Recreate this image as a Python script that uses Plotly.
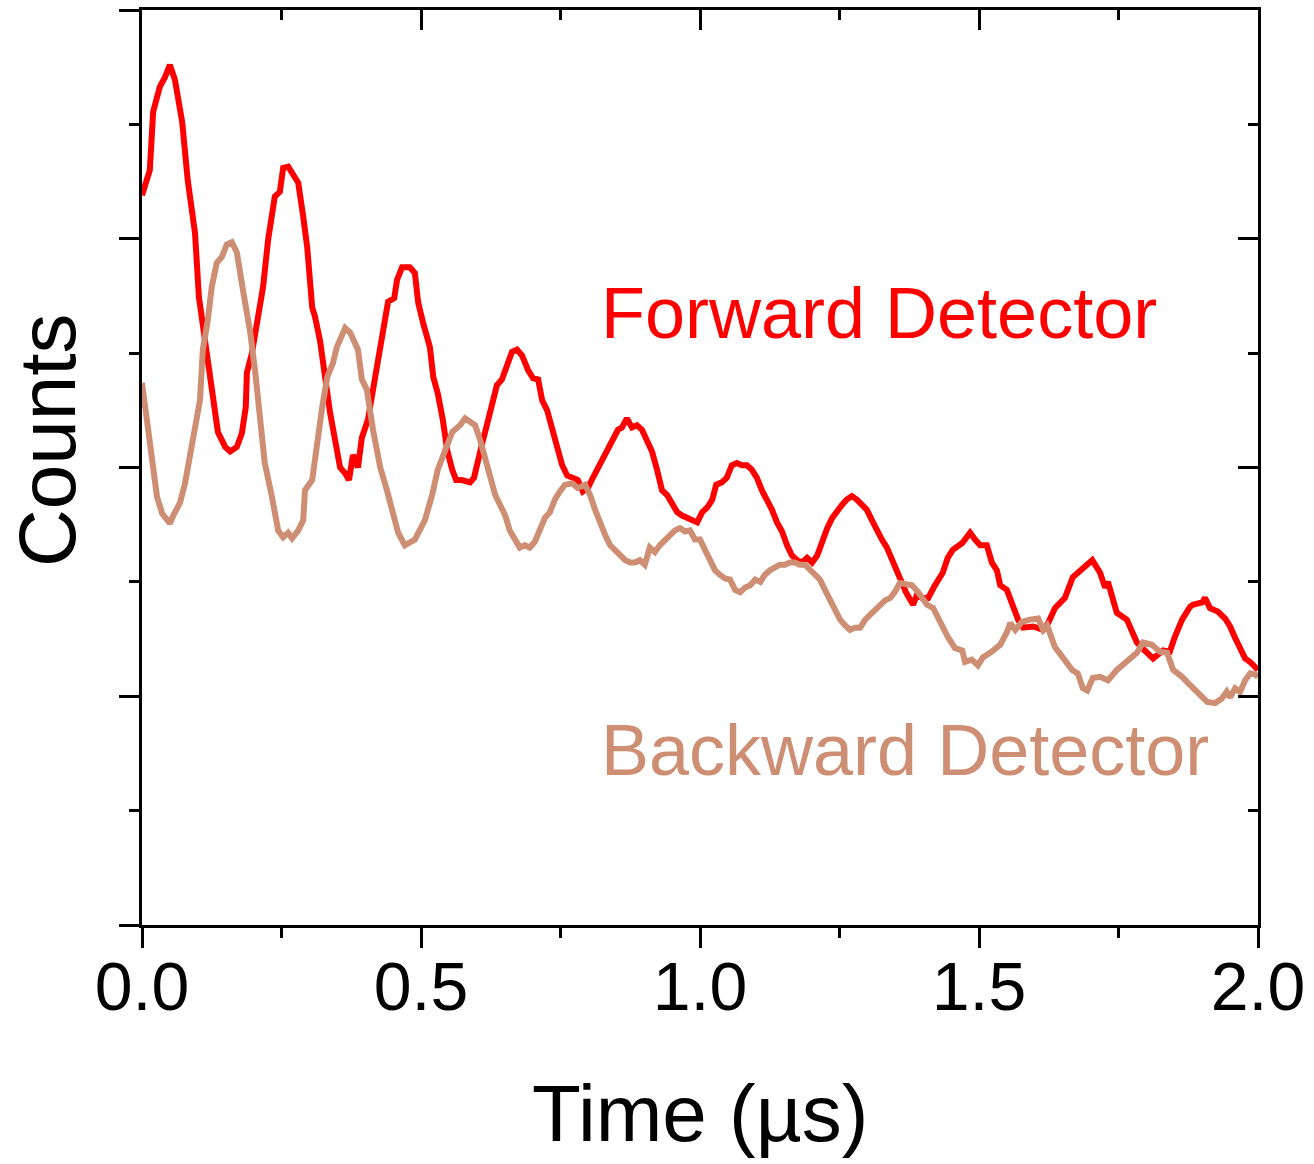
import plotly.graph_objects as go

# Forward detector (red) — time in µs, counts in arbitrary units
fwd_t = [0.000, 0.007, 0.014, 0.020, 0.032, 0.041, 0.050, 0.059, 0.072, 0.082, 0.095, 0.102, 0.113, 0.122,
         0.131, 0.136, 0.149, 0.158, 0.170, 0.179, 0.186, 0.188, 0.197, 0.206, 0.217, 0.226, 0.233, 0.238,
         0.247, 0.253, 0.262, 0.271, 0.280, 0.289, 0.296, 0.305, 0.310, 0.319, 0.328, 0.337, 0.346, 0.355,
         0.364, 0.371, 0.378, 0.387, 0.394, 0.405, 0.414, 0.427, 0.435, 0.441, 0.452, 0.457, 0.466, 0.480,
         0.489, 0.495, 0.504, 0.516, 0.522, 0.530, 0.539, 0.547, 0.556, 0.563, 0.573, 0.588, 0.595, 0.602,
         0.609, 0.618, 0.627, 0.636, 0.645, 0.654, 0.663, 0.672, 0.681, 0.692, 0.701, 0.710, 0.717, 0.726,
         0.735, 0.744, 0.753, 0.762, 0.771, 0.781, 0.790, 0.799, 0.808, 0.817, 0.826, 0.835, 0.844, 0.853,
         0.860, 0.869, 0.878, 0.887, 0.896, 0.905, 0.914, 0.923, 0.932, 0.941, 0.950, 0.959, 0.968, 0.977,
         0.986, 0.995, 1.004, 1.013, 1.022, 1.029, 1.039, 1.048, 1.057, 1.066, 1.075, 1.084, 1.093, 1.102,
         1.111, 1.120, 1.129, 1.138, 1.147, 1.156, 1.165, 1.174, 1.183, 1.192, 1.201, 1.210, 1.219, 1.228,
         1.237, 1.246, 1.254, 1.263, 1.272, 1.281, 1.290, 1.299, 1.308, 1.317, 1.326, 1.335, 1.344, 1.353,
         1.358, 1.369, 1.382, 1.389, 1.398, 1.409, 1.421, 1.435, 1.444, 1.453, 1.470, 1.484, 1.493, 1.502,
         1.514, 1.523, 1.532, 1.538, 1.550, 1.561, 1.570, 1.579, 1.597, 1.615, 1.624, 1.636, 1.654, 1.668,
         1.685, 1.703, 1.717, 1.726, 1.731, 1.747, 1.765, 1.783, 1.797, 1.812, 1.830, 1.842, 1.851, 1.864,
         1.878, 1.883, 1.900, 1.905, 1.914, 1.928, 1.941, 1.950, 1.959, 1.968, 1.977, 1.986, 2.000]
fwd_v = [6.38, 6.51, 6.60, 7.11, 7.33, 7.41, 7.52, 7.39, 7.02, 6.51, 6.05, 5.49, 5.11, 4.83,
         4.53, 4.31, 4.18, 4.14, 4.18, 4.30, 4.53, 4.83, 5.00, 5.26, 5.58, 5.99, 6.23, 6.37,
         6.41, 6.62, 6.63, 6.57, 6.49, 6.19, 5.93, 5.40, 5.32, 5.11, 4.77, 4.48, 4.24, 4.00,
         3.95, 3.89, 4.11, 4.00, 4.26, 4.42, 4.68, 5.05, 5.29, 5.45, 5.48, 5.64, 5.75, 5.75,
         5.70, 5.44, 5.26, 5.05, 4.79, 4.65, 4.42, 4.15, 3.98, 3.89, 3.89, 3.87, 3.91, 4.07,
         4.20, 4.37, 4.55, 4.72, 4.77, 4.90, 5.01, 5.03, 4.98, 4.85, 4.78, 4.77, 4.59, 4.50,
         4.33, 4.15, 4.02, 3.93, 3.91, 3.89, 3.79, 3.82, 3.91, 4.00, 4.07, 4.15, 4.24, 4.33,
         4.35, 4.43, 4.35, 4.37, 4.33, 4.24, 4.14, 3.98, 3.80, 3.76, 3.67, 3.61, 3.58, 3.56,
         3.54, 3.52, 3.61, 3.65, 3.72, 3.85, 3.87, 3.91, 4.02, 4.04, 4.02, 4.02, 3.98, 3.91,
         3.80, 3.72, 3.63, 3.52, 3.44, 3.32, 3.23, 3.19, 3.17, 3.21, 3.17, 3.23, 3.37, 3.47,
         3.56, 3.63, 3.67, 3.72, 3.75, 3.72, 3.67, 3.63, 3.54, 3.44, 3.37, 3.30, 3.19, 3.10,
         3.04, 2.91, 2.80, 2.89, 2.86, 2.86, 2.97, 3.08, 3.21, 3.28, 3.34, 3.43, 3.37, 3.32,
         3.32, 3.17, 3.10, 2.97, 2.93, 2.78, 2.67, 2.60, 2.61, 2.58, 2.64, 2.77, 2.86, 3.04,
         3.12, 3.19, 3.08, 2.95, 3.00, 2.73, 2.67, 2.47, 2.40, 2.33, 2.40, 2.39, 2.52, 2.67,
         2.78, 2.80, 2.82, 2.86, 2.77, 2.74, 2.68, 2.61, 2.51, 2.42, 2.33, 2.30, 2.23]

# Backward detector (tan)
bwd_t = [0.000, 0.011, 0.018, 0.027, 0.036, 0.050, 0.056, 0.068, 0.077, 0.086, 0.095, 0.104, 0.109, 0.118,
         0.125, 0.134, 0.143, 0.152, 0.161, 0.170, 0.181, 0.194, 0.203, 0.211, 0.220, 0.233, 0.244, 0.253,
         0.262, 0.269, 0.280, 0.289, 0.292, 0.305, 0.314, 0.323, 0.332, 0.342, 0.349, 0.364, 0.373, 0.387,
         0.394, 0.403, 0.414, 0.427, 0.439, 0.448, 0.459, 0.471, 0.489, 0.507, 0.520, 0.530, 0.543, 0.556,
         0.570, 0.579, 0.588, 0.597, 0.606, 0.615, 0.624, 0.633, 0.642, 0.651, 0.659, 0.668, 0.677, 0.686,
         0.695, 0.704, 0.713, 0.722, 0.731, 0.740, 0.749, 0.758, 0.771, 0.781, 0.794, 0.803, 0.812, 0.821,
         0.830, 0.839, 0.848, 0.857, 0.866, 0.875, 0.884, 0.892, 0.901, 0.910, 0.919, 0.928, 0.937, 0.946,
         0.955, 0.964, 0.973, 0.982, 0.991, 1.000, 1.009, 1.018, 1.027, 1.036, 1.045, 1.054, 1.063, 1.072,
         1.081, 1.090, 1.099, 1.108, 1.116, 1.125, 1.134, 1.143, 1.152, 1.161, 1.170, 1.179, 1.188, 1.197,
         1.206, 1.215, 1.224, 1.233, 1.242, 1.251, 1.260, 1.269, 1.278, 1.287, 1.296, 1.305, 1.314, 1.323,
         1.332, 1.341, 1.349, 1.358, 1.380, 1.391, 1.407, 1.418, 1.430, 1.444, 1.457, 1.470, 1.475, 1.487,
         1.498, 1.507, 1.523, 1.538, 1.550, 1.556, 1.565, 1.577, 1.591, 1.606, 1.615, 1.622, 1.636, 1.651,
         1.667, 1.677, 1.686, 1.694, 1.704, 1.717, 1.731, 1.747, 1.756, 1.771, 1.783, 1.794, 1.810, 1.824,
         1.837, 1.848, 1.864, 1.878, 1.892, 1.909, 1.923, 1.935, 1.944, 1.950, 1.959, 1.968, 1.977, 1.986,
         1.995, 2.000]
bwd_v = [4.74, 4.35, 4.04, 3.74, 3.60, 3.51, 3.58, 3.69, 3.86, 4.09, 4.35, 4.59, 5.03, 5.29,
         5.58, 5.79, 5.84, 5.95, 5.97, 5.88, 5.55, 5.18, 4.83, 4.39, 4.04, 3.74, 3.45, 3.39,
         3.43, 3.38, 3.45, 3.54, 3.80, 3.89, 4.24, 4.53, 4.79, 4.91, 5.05, 5.22, 5.18, 5.03,
         4.77, 4.68, 4.33, 4.00, 3.80, 3.65, 3.43, 3.32, 3.37, 3.54, 3.76, 3.98, 4.15, 4.31,
         4.37, 4.43, 4.40, 4.37, 4.24, 4.07, 3.89, 3.76, 3.67, 3.58, 3.45, 3.37, 3.30, 3.32,
         3.30, 3.35, 3.45, 3.56, 3.61, 3.72, 3.79, 3.85, 3.86, 3.82, 3.85, 3.76, 3.63, 3.50,
         3.41, 3.32, 3.28, 3.23, 3.19, 3.17, 3.17, 3.19, 3.15, 3.30, 3.26, 3.32, 3.37, 3.41,
         3.45, 3.47, 3.44, 3.45, 3.37, 3.37, 3.28, 3.17, 3.10, 3.06, 3.03, 3.02, 2.93, 2.91,
         2.95, 2.97, 3.02, 3.00, 3.06, 3.10, 3.12, 3.15, 3.15, 3.17, 3.17, 3.15, 3.15, 3.10,
         3.06, 3.02, 2.93, 2.84, 2.74, 2.67, 2.62, 2.58, 2.60, 2.60, 2.67, 2.71, 2.75, 2.80,
         2.84, 2.86, 2.91, 2.99, 2.97, 2.91, 2.80, 2.77, 2.64, 2.52, 2.42, 2.40, 2.30, 2.32,
         2.27, 2.34, 2.39, 2.45, 2.56, 2.64, 2.58, 2.65, 2.67, 2.68, 2.58, 2.62, 2.43, 2.34,
         2.23, 2.20, 2.07, 2.05, 2.16, 2.17, 2.14, 2.23, 2.27, 2.34, 2.38, 2.47, 2.45, 2.39,
         2.38, 2.23, 2.17, 2.10, 2.03, 1.95, 1.94, 1.98, 2.04, 1.99, 2.07, 2.04, 2.14, 2.20,
         2.19, 2.17]

x_tickvals = [0.0, 0.5, 1.0, 1.5, 2.0]
x_ticktext = ["0.0", "0.5", "1.0", "1.5", "2.0"]

RED = "#FF0000"
TAN = "#CE8E73"
FONT = "Liberation Sans, Arial, sans-serif"

fig = go.Figure()
fig.add_trace(go.Scatter(x=fwd_t, y=fwd_v, mode="lines",
                         line=dict(color=RED, width=6), showlegend=False))
fig.add_trace(go.Scatter(x=bwd_t, y=bwd_v, mode="lines",
                         line=dict(color=TAN, width=6), showlegend=False))
# invisible trace to activate mirrored axes
fig.add_trace(go.Scatter(x=[0], y=[0], xaxis="x2", yaxis="y2", mode="markers",
                         marker=dict(opacity=0), showlegend=False, hoverinfo="skip"))

axis_common = dict(showline=True, linecolor="black", linewidth=3, showgrid=False,
                   zeroline=False, tickcolor="black", tickwidth=3)

fig.update_layout(
    width=1314, height=1164,
    margin=dict(l=142, r=56, t=10, b=239),
    paper_bgcolor="white", plot_bgcolor="white",
    font=dict(family=FONT, color="black"),
    xaxis=dict(range=[0, 2], tickvals=x_tickvals, ticktext=x_ticktext,
               ticks="outside", ticklen=20, ticklabelstandoff=-20,
               tickfont=dict(size=68, family=FONT),
               minor=dict(dtick=0.25, tick0=0, ticks="outside", ticklen=10,
                          tickwidth=3, tickcolor="black"),
               **axis_common),
    xaxis2=dict(range=[0, 2], overlaying="x", side="top", tickvals=x_tickvals,
                ticks="inside", ticklen=20, showticklabels=False,
                minor=dict(dtick=0.25, tick0=0, ticks="inside", ticklen=10,
                           tickwidth=3, tickcolor="black"),
                **axis_common),
    yaxis=dict(range=[0, 8], dtick=2, tick0=0, ticks="outside", ticklen=20,
               showticklabels=False,
               minor=dict(dtick=1, tick0=0, ticks="outside", ticklen=10,
                          tickwidth=3, tickcolor="black"),
               **axis_common),
    yaxis2=dict(range=[0, 8], overlaying="y", side="right", dtick=2, tick0=0,
                ticks="inside", ticklen=20, showticklabels=False,
                minor=dict(dtick=1, tick0=0, ticks="inside", ticklen=10,
                           tickwidth=3, tickcolor="black"),
                **axis_common),
)

fig.add_annotation(text="Forward Detector", x=0.819, y=5.35, xref="x", yref="y",
                   xanchor="left", yanchor="middle", showarrow=False,
                   font=dict(size=72, color=RED, family=FONT))
fig.add_annotation(text="Backward Detector", x=0.819, y=1.53, xref="x", yref="y",
                   xanchor="left", yanchor="middle", showarrow=False,
                   font=dict(size=72, color=TAN, family=FONT))
fig.add_annotation(text="Time (µs)", x=0.5, y=-0.2055, xref="paper", yref="paper",
                   xanchor="center", yanchor="middle", showarrow=False,
                   font=dict(size=80, color="black", family=FONT))
fig.add_annotation(text="Counts", x=-0.0842, y=0.529, xref="paper", yref="paper",
                   xanchor="center", yanchor="middle", textangle=-90, showarrow=False,
                   font=dict(size=80, color="black", family=FONT))

fig.write_html("out.html")
